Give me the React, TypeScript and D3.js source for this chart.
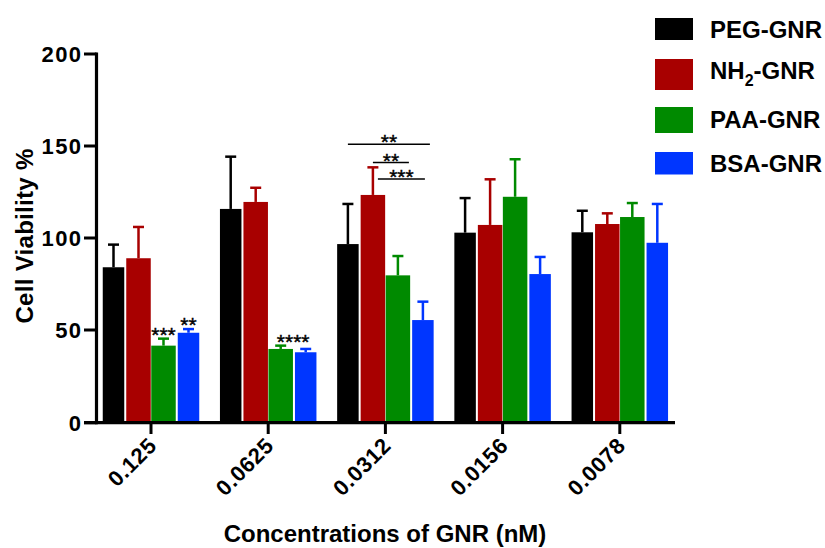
import React from "react";
import * as d3 from "d3";

// ---- data ----
const categories = ["0.125", "0.0625", "0.0312", "0.0156", "0.0078"];
const seriesNames = ["PEG-GNR", "NH2-GNR", "PAA-GNR", "BSA-GNR"];
const pegMean = [84.1, 115.8, 96.7, 102.9, 103.1];
const pegErr = [12.3, 28.4, 21.8, 18.8, 11.7];
const nh2Mean = [89.0, 119.6, 123.4, 107.1, 107.6];
const nh2Err = [17.0, 7.7, 15.0, 24.8, 5.8];
const paaMean = [41.5, 39.7, 79.7, 122.4, 111.4];
const paaErr = [3.8, 1.8, 10.5, 20.4, 7.6];
const bsaMean = [48.5, 37.9, 55.4, 80.4, 97.4];
const bsaErr = [2.0, 1.8, 10.0, 9.3, 21.1];
const yTicks = [0, 50, 100, 150, 200];
const barStars = [
  { cat: "0.125", pos: 2, label: "***" },
  { cat: "0.125", pos: 3, label: "**" },
  { cat: "0.0625", pos: 2.5, label: "****" },
];
const brackets = [
  { cat: "0.0312", from: 0, to: 3, level: 151, label: "**" },
  { cat: "0.0312", from: 1, to: 2, level: 141, label: "**" },
  { cat: "0.0312", from: 1, to: 3, level: 132, label: "***" },
];

// ---- style ----
const colors = ["#000000", "#a80000", "#008a00", "#0036ff"];
const barWidths = [21.5, 24.5, 24.5, 21.5];
const bracketPad = [[0, 7], [0, 11], [5, 2]];
const legendTops = [18, 59, 107, 152];
const legendHeights = [22, 31, 26, 22.5];
const legendBase = [38, 79, 128, 172];
const FONT = "'Liberation Sans', Arial, Helvetica, sans-serif";

export default function App() {
  const means = [pegMean, nh2Mean, paaMean, bsaMean];
  const errs = [pegErr, nh2Err, paaErr, bsaErr];

  const y = d3.scaleLinear().domain([0, 200]).range([422, 54]);
  const x = d3.scaleBand<string>().domain(categories).range([92.4, 678.4]);
  const inner = d3.scaleBand<string>().domain(seriesNames).range([-50, 50]);
  const center = (c: string) => (x(c) as number) + x.bandwidth() / 2;
  const barCenter = (c: string, i: number) =>
    center(c) + (inner(seriesNames[i]) as number) + inner.bandwidth() / 2;
  const posCenter = (c: string, p: number) =>
    center(c) + -37.5 + p * inner.bandwidth();

  const axisX = 96.5;
  const axisY = 422.7;
  const starSize = 21;
  const starBase = 12;

  return (
    <svg width={825} height={548} style={{ display: "block", position: "absolute", left: 0, top: 0 }}>
      <rect width={825} height={548} fill="#fff" />
      {/* bars */}
      {seriesNames.map((s, si) =>
        categories.map((c, ci) => {
          const cx = barCenter(c, si);
          const w = barWidths[si];
          const top = y(means[si][ci]);
          const cap = y(means[si][ci] + errs[si][ci]);
          return (
            <g key={s + c}>
              <rect x={cx - w / 2} y={top} width={w} height={y(0) - top} fill={colors[si]} />
              <line x1={cx} x2={cx} y1={top} y2={cap} stroke={colors[si]} strokeWidth={2.5} />
              <line x1={cx - 5.5} x2={cx + 5.5} y1={cap} y2={cap} stroke={colors[si]} strokeWidth={2.5} />
            </g>
          );
        })
      )}
      {/* axes */}
      <line x1={axisX} x2={axisX} y1={52.5} y2={axisY + 1.5} stroke="#000" strokeWidth={3.2} />
      <line x1={84} x2={675} y1={axisY} y2={axisY} stroke="#000" strokeWidth={3.2} />
      {yTicks.map((t) => (
        <g key={t}>
          <line x1={84} x2={axisX} y1={t === 0 ? axisY : y(t)} y2={t === 0 ? axisY : y(t)} stroke="#000" strokeWidth={3} />
          <text x={82.5} y={t === 0 ? axisY : y(t)} dy="0.36em" textAnchor="end" fontFamily={FONT} fontWeight="bold" fontSize={22} letterSpacing={1.4} fill="#000">
            {t}
          </text>
        </g>
      ))}
      {categories.map((c) => (
        <g key={c}>
          <line x1={center(c)} x2={center(c)} y1={axisY} y2={434} stroke="#000" strokeWidth={3} />
          <text
            transform={`translate(${center(c) + 7},${447}) rotate(-45)`}
            textAnchor="end"
            fontFamily={FONT}
            fontWeight="bold"
            fontSize={22}
            letterSpacing={0.6}
            fill="#000"
          >
            {c}
          </text>
        </g>
      ))}
      {/* titles */}
      <text x={385} y={542} textAnchor="middle" fontFamily={FONT} fontWeight="bold" fontSize={24} fill="#000">
        Concentrations of GNR (nM)
      </text>
      <text transform="translate(33,236) rotate(-90)" textAnchor="middle" fontFamily={FONT} fontWeight="bold" fontSize={24} letterSpacing={0.3} fill="#000">
        Cell Viability %
      </text>
      {/* stars over bars */}
      {barStars.map((b, i) => {
        const ci = categories.indexOf(b.cat);
        const idx = [Math.floor(b.pos), Math.ceil(b.pos)];
        const capV = Math.max(...idx.map((k) => means[k][ci] + errs[k][ci]));
        const cy = y(capV) - 9;
        return (
          <text key={i} x={posCenter(b.cat, b.pos)} y={cy + starBase} textAnchor="middle" fontFamily={FONT} fontSize={starSize} stroke="#000" strokeWidth={0.4} fill="#000">
            {b.label}
          </text>
        );
      })}
      {/* brackets */}
      {brackets.map((b, i) => {
        const x1 = barCenter(b.cat, b.from) + bracketPad[i][0];
        const x2 = barCenter(b.cat, b.to) + bracketPad[i][1];
        const ly = y(b.level);
        return (
          <g key={i}>
            <line x1={x1} x2={x2} y1={ly} y2={ly} stroke="#000" strokeWidth={1.5} />
            <text x={(x1 + x2) / 2} y={ly - 7 + starBase} textAnchor="middle" fontFamily={FONT} fontSize={starSize} stroke="#000" strokeWidth={0.4} fill="#000">
              {b.label}
            </text>
          </g>
        );
      })}
      {/* legend */}
      {seriesNames.map((s, i) => (
        <g key={s}>
          <rect x={655} y={legendTops[i]} width={38} height={legendHeights[i]} fill={colors[i]} />
          <text x={710} y={legendBase[i]} fontFamily={FONT} fontWeight="bold" fontSize={24} fill="#000">
            {s === "NH2-GNR" ? (
              <>
                NH<tspan fontSize={16} dy={7}>2</tspan>
                <tspan dy={-7}>-GNR</tspan>
              </>
            ) : (
              s
            )}
          </text>
        </g>
      ))}
    </svg>
  );
}
